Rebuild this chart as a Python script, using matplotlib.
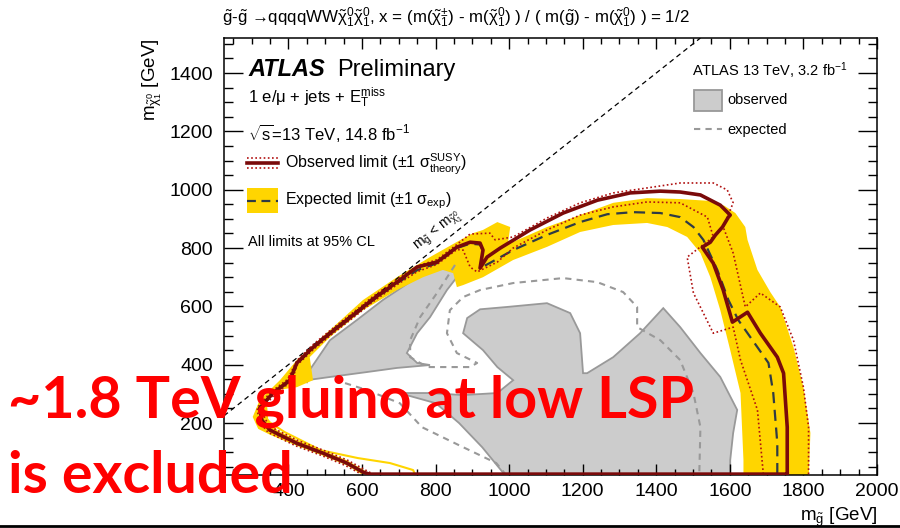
import numpy as np
import matplotlib.pyplot as plt
from matplotlib.patches import Rectangle
from matplotlib.lines import Line2D
from matplotlib.ticker import MultipleLocator
from matplotlib import font_manager

plt.rcParams['font.family'] = ['Liberation Sans', 'DejaVu Sans']
plt.rcParams['mathtext.fontset'] = 'custom'
plt.rcParams['mathtext.rm'] = 'Liberation Sans'
plt.rcParams['mathtext.it'] = 'Liberation Sans:italic'
plt.rcParams['mathtext.bf'] = 'Liberation Sans:bold'
plt.rcParams['mathtext.default'] = 'regular'

# ---- contours (m_gluino, m_LSP) in GeV ----
# observed limit 14.8 fb-1
obs_x = [1756, 1756, 1746, 1729, 1683, 1648, 1607, 1582, 1555, 1525, 1547, 1561, 1580, 1588, 1596, 1601,
         1574, 1520, 1465, 1411, 1329, 1240, 1147, 1057, 976, 940, 921, 929, 921, 894, 858, 804, 750,
         695, 630, 586, 513, 467, 423, 404, 358, 322, 328, 350, 423, 494, 559, 603, 620, 1756]
obs_y = [25, 186, 371, 426, 508, 580, 546, 656, 748, 803, 820, 845, 872, 889, 906, 913,
         947, 982, 992, 995, 989, 964, 920, 862, 800, 769, 731, 793, 817, 820, 803, 752, 735,
         683, 625, 580, 508, 460, 406, 347, 303, 251, 210, 176, 131, 97, 63, 32, 25, 25]

# observed +1 sigma theory
obs_up_x = [1814, 1814, 1800, 1773, 1737, 1683, 1642, 1609, 1582, 1601, 1609, 1593, 1555, 1465, 1375,
            1283, 1193, 1103, 1011, 962, 948, 894, 858, 804, 750, 695, 630, 586, 513, 467, 423, 398,
            352, 315, 320, 345, 420, 492, 556, 598]
obs_up_y = [25, 186, 323, 484, 598, 646, 598, 783, 872, 930, 955, 999, 1023, 1023, 1006,
            989, 955, 903, 838, 828, 851, 848, 812, 760, 738, 692, 634, 589, 517, 469, 414, 350,
            306, 252, 206, 168, 122, 88, 54, 25]

# observed -1 sigma theory
obs_dn_x = [1691, 1675, 1629, 1609, 1555, 1501, 1484, 1555, 1539, 1465, 1375, 1283, 1193, 1103, 1011,
            968, 913, 894, 875, 858, 804, 750, 695, 630, 586, 513, 467, 423, 410, 364, 329, 336,
            356, 426, 497, 562, 608, 630]
obs_dn_y = [25, 245, 416, 529, 508, 646, 769, 838, 906, 955, 958, 941, 913, 862, 800,
            752, 718, 735, 793, 795, 744, 719, 674, 616, 571, 499, 451, 398, 344, 300, 250, 214,
            184, 140, 106, 72, 40, 25]

# expected limit
exp_x = [1729, 1729, 1718, 1705, 1675, 1623, 1596, 1566, 1528, 1501, 1465, 1411, 1337, 1267, 1193,
         1103, 1011, 948, 921, 929, 921, 894, 858, 804, 750, 695, 630, 586, 513, 467, 423, 404,
         358, 322, 328, 350, 423, 494, 559, 603, 620, 1729]
exp_y = [25, 131, 303, 406, 460, 553, 622, 725, 828, 872, 906, 920, 923, 916, 889,
         845, 793, 749, 731, 790, 812, 815, 800, 748, 724, 679, 621, 577, 505, 457, 403, 344,
         300, 249, 208, 174, 129, 95, 61, 30, 25, 25]

# expected +-1 sigma band: outer edge then inner edge
band_x = [1814, 1819, 1800, 1773, 1737, 1710, 1675, 1648, 1642, 1615, 1585, 1540, 1465, 1375, 1283,
          1193, 1103, 1011, 997, 1003, 968, 929, 902, 858, 785, 695, 603, 513, 423, 377, 322, 303,
          318, 350, 423, 494, 559, 598,
          610, 560, 494, 423, 370, 345, 341, 369, 423, 467, 458, 513, 603, 695, 766, 820, 848, 858,
          875, 929, 1011, 1103, 1193, 1283, 1375, 1430, 1484, 1520, 1547, 1574, 1601, 1629, 1637, 1637]
band_y = [0, 166, 323, 460, 598, 649, 725, 828, 872, 920, 945, 962, 968, 971, 955,
          913, 872, 821, 817, 872, 889, 862, 851, 821, 769, 700, 622, 519, 416, 347, 279, 221,
          180, 160, 122, 88, 55, 25,
          35, 72, 106, 142, 175, 215, 279, 313, 323, 347, 426, 495, 587, 656, 700, 725, 714, 666,
          673, 700, 759, 804, 855, 879, 886, 872, 838, 783, 700, 587, 450, 303, 73, 0]

# thin yellow tail of the band near the lower arm
band_tail_x = [352, 390, 488, 589, 676, 739, 745]
band_tail_y = [200, 169, 107, 80, 63, 39, 22]

# ATLAS 13 TeV 3.2 fb-1 observed (grey areas)
old1_x = [450, 458, 513, 586, 657, 750, 820, 867, 858, 831, 785, 750, 722, 750, 785, 695, 614, 513, 450]
old1_y = [337, 382, 484, 553, 622, 700, 749, 752, 700, 656, 563, 508, 440, 406, 399, 389, 375, 358, 347]
old2_x = [1003, 927, 864, 801, 701, 785, 875, 968, 1011, 968, 929, 875, 886, 921, 994, 1103, 1166, 1193,
          1201, 1212, 1283, 1356, 1419, 1465, 1520, 1574, 1620, 1609, 1601, 1601]
old2_y = [0, 117, 200, 268, 303, 303, 296, 303, 347, 392, 450, 508, 560, 590, 598, 611, 577, 508,
          371, 371, 426, 508, 594, 529, 440, 358, 245, 166, 73, 0]

# ATLAS 13 TeV 3.2 fb-1 expected (grey dashed)
old_exp_a_x = [853, 804, 758, 731, 731, 777, 894, 913, 858, 831, 839, 875, 921, 1011, 1147, 1240, 1310,
               1348, 1348, 1411, 1465, 1501, 1520, 1517, 1517]
old_exp_a_y = [742, 646, 563, 484, 426, 392, 392, 406, 440, 508, 587, 632, 656, 680, 697, 683, 649,
               598, 529, 484, 416, 303, 186, 28, 0]
old_exp_b_x = [554, 614, 703, 763, 864, 965, 988, 995]
old_exp_b_y = [337, 313, 268, 186, 124, 63, 28, 0]

x_ticks = [400, 600, 800, 1000, 1200, 1400, 1600, 1800, 2000]
y_ticks = [200, 400, 600, 800, 1000, 1200, 1400]

# ---- figure ----
W, H = 900, 528
fig = plt.figure(figsize=(W / 100, H / 100), dpi=100)
ax = fig.add_axes([224 / W, 1 - 475 / H, 653 / W, 437 / H])


def px(x, y):
    return x / W, 1 - y / H


YEL = '#FFD500'
RED = '#7A0A0A'
DOT = '#B01010'
EXPC = '#2F3B45'

ax.fill(old1_x, old1_y, facecolor='#CCCCCC', edgecolor='#999999', lw=1.3, zorder=1)
ax.fill(old2_x, old2_y, facecolor='#CCCCCC', edgecolor='#999999', lw=1.3, zorder=1)
ax.fill(band_x, band_y, facecolor=YEL, edgecolor='none', zorder=2)
ax.plot(band_tail_x, band_tail_y, color=YEL, lw=1.5, zorder=2)
ax.plot(old_exp_a_x, old_exp_a_y, color='#999999', lw=1.5, ls=(0, (3, 2.5)), zorder=3)
ax.plot(old_exp_b_x, old_exp_b_y, color='#999999', lw=1.5, ls=(0, (3, 2.5)), zorder=3)
ax.plot(exp_x, exp_y, color=EXPC, lw=1.6, ls=(0, (5, 3)), zorder=4)
ax.plot(obs_up_x, obs_up_y, color=DOT, lw=1.2, ls=(0, (1, 1.5)), zorder=5)
ax.plot(obs_dn_x, obs_dn_y, color=DOT, lw=1.2, ls=(0, (1, 1.5)), zorder=5)
ax.plot(obs_x, obs_y, color=RED, lw=2.6, zorder=6, solid_joinstyle='round')

# kinematic boundary
ax.plot([225, 1520], [225, 1520], color='black', lw=0.9, ls=(0, (4, 3)), zorder=3)

ax.set_xlim(225, 2000)
ax.set_ylim(22, 1520)
ax.set_xticks(x_ticks)
ax.set_yticks(y_ticks)
ax.xaxis.set_minor_locator(MultipleLocator(50))
ax.yaxis.set_minor_locator(MultipleLocator(50))
ax.tick_params(which='both', direction='in', top=True, right=True, width=1, labelsize=14)
ax.tick_params(axis='y', which='major', length=13.5, pad=8)
ax.tick_params(axis='y', which='minor', length=6.8)
ax.tick_params(axis='x', which='major', length=8, pad=6)
ax.tick_params(axis='x', which='minor', length=4)
for s in ax.spines.values():
    s.set_linewidth(1.1)

# axis titles
fig.text(*px(152, 38), r'm$_{\tilde{\chi}^{0}_{1}}$ [GeV]', rotation=90, ha='center', va='top', fontsize=13.5)
fig.text(*px(877, 517), r'm$_{\tilde{g}}$ [GeV]', ha='right', va='center', fontsize=13.5)
fig.text(*px(222, 18), r'$\tilde{g}$-$\tilde{g}$ →qqqqWW$\tilde{\chi}^{0}_{1}\tilde{\chi}^{0}_{1}$, '
         r'x = (m($\tilde{\chi}^{\pm}_{1}$) - m($\tilde{\chi}^{0}_{1}$) ) / ( m($\tilde{g}$) - m($\tilde{\chi}^{0}_{1}$) ) = 1/2',
         ha='left', va='center', fontsize=12.2)

# left legend block
fig.text(*px(248, 76), 'ATLAS', fontsize=17, fontweight='bold', fontstyle='italic', va='baseline')
fig.text(*px(337, 76), 'Preliminary', fontsize=17, va='baseline')
fig.text(*px(248, 103), r'1 e/$\mu$ + jets + E$_{T}^{miss}$', fontsize=12, va='baseline')
fig.text(*px(248, 140), r'$\sqrt{s}$=13 TeV, 14.8 fb$^{-1}$', fontsize=12, va='baseline')

tf = fig.transFigure
for yy, col, lw, ls in [(158, DOT, 1.2, (0, (1, 1.5))), (168, DOT, 1.2, (0, (1, 1.5))), (163, RED, 2.6, '-')]:
    fig.add_artist(Line2D([247 / W, 278 / W], [1 - yy / H] * 2, color=col, lw=lw, ls=ls, transform=tf))
fig.text(*px(285, 164), r'Observed limit ($\pm$1 $\sigma^{SUSY}_{theory}$)', fontsize=11.5, va='center')
fig.add_artist(Rectangle(px(247, 213), 31 / W, 25 / H, facecolor=YEL, edgecolor='none', transform=tf))
fig.add_artist(Line2D([247 / W, 278 / W], [1 - 201 / H] * 2, color=EXPC, lw=1.6, ls=(0, (4, 2.5)), transform=tf))
fig.text(*px(285, 201), r'Expected limit ($\pm$1 $\sigma_{exp}$)', fontsize=11.5, va='center')
fig.text(*px(248, 242), 'All limits at 95% CL', fontsize=10.5, va='center')

# right legend block
fig.text(*px(692, 71), r'ATLAS 13 TeV, 3.2 fb$^{-1}$', fontsize=10.5, va='center')
fig.add_artist(Rectangle(px(694, 111), 28 / W, 21 / H, facecolor='#CCCCCC', edgecolor='#999999', lw=1.3, transform=tf))
fig.text(*px(727, 100), 'observed', fontsize=10.5, va='center')
fig.add_artist(Line2D([694 / W, 722 / W], [1 - 129 / H] * 2, color='#999999', lw=1.5, ls=(0, (3, 2.5)), transform=tf))
fig.text(*px(727, 130), 'expected', fontsize=10.5, va='center')

# diagonal label
fig.text(*px(438, 232), r'm$_{\tilde{g}}$ < m$_{\tilde{\chi}^{0}_{1}}$', rotation=38.5, ha='center', va='center',
         fontsize=10)

# red overlay text
names = {f.name for f in font_manager.fontManager.ttflist}
red_font = next((n for n in ['Lato', 'Liberation Sans'] if n in names), 'DejaVu Sans')
t1 = fig.text(*px(8, 418), '~1.8 TeV gluino at low LSP', color='#FF0000', fontweight='bold',
              family=[red_font, 'DejaVu Sans'], fontsize=40, va='baseline', zorder=10)
t2 = fig.text(*px(8, 493), 'is excluded', color='#FF0000', fontweight='bold',
              family=[red_font, 'DejaVu Sans'], fontsize=40, va='baseline', zorder=10)
fig.canvas.draw()
w = t1.get_window_extent().width
scale = 685 / w
t1.set_fontsize(40 * scale)
t2.set_fontsize(40 * scale)

# slide border line at the bottom
fig.add_artist(Line2D([0, 1], [1 - 526 / H] * 2, color='black', lw=2, transform=tf))

fig.savefig('out.png', dpi=100)
